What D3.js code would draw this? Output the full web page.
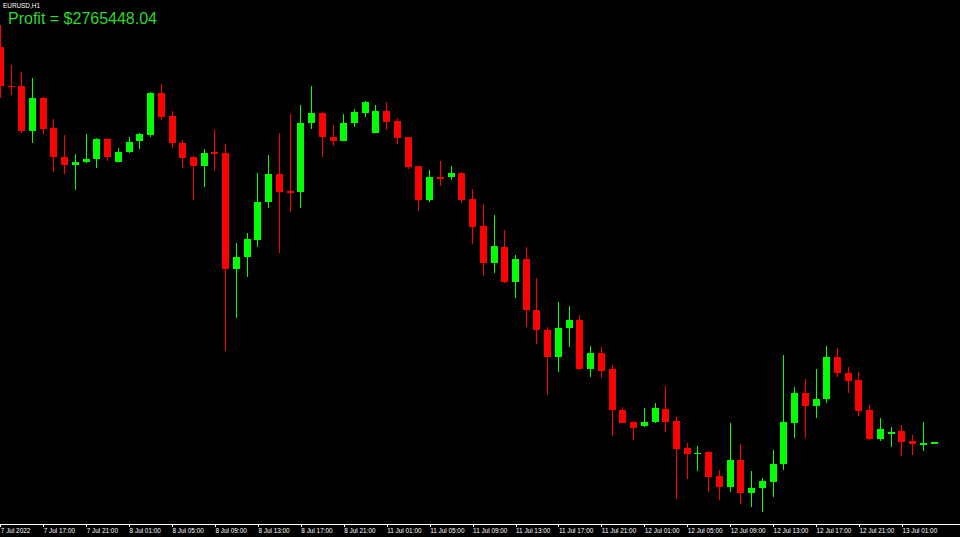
<!DOCTYPE html>
<html>
<head>
<meta charset="utf-8">
<script src="https://cdn.jsdelivr.net/npm/d3@7"></script>
<style>
  html, body { margin: 0; padding: 0; background: #000; overflow: hidden; }
  svg { display: block; }
</style>
</head>
<body>
<svg id="chart" width="960" height="537"></svg>
<script>
// ---- DATA (EURUSD, H1) ----
const symbolLabel = "EURUSD,H1";
const profitLabel = "Profit = $2765448.04";

const times = [
  "07-07 13","07-07 14","07-07 15","07-07 16","07-07 17","07-07 18","07-07 19","07-07 20","07-07 21","07-07 22","07-07 23",
  "07-08 00","07-08 01","07-08 02","07-08 03","07-08 04","07-08 05","07-08 06","07-08 07","07-08 08","07-08 09","07-08 10",
  "07-08 11","07-08 12","07-08 13","07-08 14","07-08 15","07-08 16","07-08 17","07-08 18","07-08 19","07-08 20","07-08 21",
  "07-08 22","07-08 23",
  "07-11 00","07-11 01","07-11 02","07-11 03","07-11 04","07-11 05","07-11 06","07-11 07","07-11 08","07-11 09","07-11 10",
  "07-11 11","07-11 12","07-11 13","07-11 14","07-11 15","07-11 16","07-11 17","07-11 18","07-11 19","07-11 20","07-11 21",
  "07-11 22","07-11 23",
  "07-12 00","07-12 01","07-12 02","07-12 03","07-12 04","07-12 05","07-12 06","07-12 07","07-12 08","07-12 09","07-12 10",
  "07-12 11","07-12 12","07-12 13","07-12 14","07-12 15","07-12 16","07-12 17","07-12 18","07-12 19","07-12 20","07-12 21",
  "07-12 22","07-12 23",
  "07-13 00","07-13 01","07-13 02","07-13 03","07-13 04"
];

const open = [
  1.02132,1.01978,1.01976,1.01796,1.01928,1.01808,1.01692,1.01660,1.01672,1.01684,1.01764,
  1.01672,1.01712,1.01756,1.01780,1.01948,1.01856,1.01748,1.01692,1.01656,1.01712,1.01708,
  1.01244,1.01292,1.01360,1.01512,1.01624,1.01556,1.01552,1.01828,1.01868,1.01772,1.01756,
  1.01828,1.01868,
  1.01788,1.01876,1.01836,1.01772,1.01656,1.01520,1.01612,1.01612,1.01628,1.01524,1.01416,
  1.01268,1.01332,1.01192,1.01284,1.01080,1.01000,1.00892,1.01008,1.01040,1.00844,1.00908,
  1.00844,1.00680,
  1.00632,1.00616,1.00632,1.00684,1.00636,1.00528,1.00504,1.00512,1.00416,1.00372,1.00480,
  1.00348,1.00368,1.00392,1.00464,1.00628,1.00748,1.00696,1.00724,1.00892,1.00828,1.00800,
  1.00680,1.00564,
  1.00586,1.00596,1.00556,1.00544,1.00548
];

const high = [
  1.02220,1.02060,1.02032,1.02008,1.01932,1.01844,1.01780,1.01704,1.01784,1.01768,1.01764,
  1.01728,1.01772,1.01788,1.01952,1.01984,1.01876,1.01760,1.01696,1.01724,1.01800,1.01744,
  1.01348,1.01388,1.01628,1.01700,1.01788,1.01864,1.01900,1.01976,1.01872,1.01820,1.01864,
  1.01884,1.01916,
  1.01900,1.01912,1.01848,1.01772,1.01656,1.01640,1.01676,1.01656,1.01632,1.01564,1.01504,
  1.01460,1.01400,1.01300,1.01332,1.01208,1.01012,1.01112,1.01096,1.01060,1.00936,1.00932,
  1.00860,1.00692,
  1.00636,1.00688,1.00708,1.00776,1.00652,1.00548,1.00536,1.00516,1.00440,1.00628,1.00544,
  1.00436,1.00408,1.00520,1.00900,1.00772,1.00804,1.00844,1.00936,1.00928,1.00852,1.00832,
  1.00700,1.00648,
  1.00612,1.00620,1.00580,1.00632,1.00552
];

const low = [
  1.01928,1.01940,1.01788,1.01748,1.01784,1.01632,1.01624,1.01560,1.01668,1.01648,1.01676,
  1.01672,1.01708,1.01724,1.01772,1.01840,1.01728,1.01648,1.01520,1.01572,1.01636,1.00916,
  1.01048,1.01212,1.01332,1.01488,1.01308,1.01472,1.01488,1.01804,1.01692,1.01736,1.01756,
  1.01812,1.01852,
  1.01788,1.01800,1.01744,1.01644,1.01476,1.01512,1.01576,1.01600,1.01508,1.01344,1.01216,
  1.01228,1.01188,1.01128,1.01012,1.00944,1.00740,1.00832,1.00932,1.00840,1.00812,1.00808,
  1.00576,1.00628,
  1.00560,1.00612,1.00628,1.00592,1.00324,1.00404,1.00436,1.00352,1.00320,1.00352,1.00304,
  1.00292,1.00272,1.00332,1.00440,1.00568,1.00568,1.00648,1.00708,1.00812,1.00748,1.00656,
  1.00560,1.00556,
  1.00532,1.00496,1.00500,1.00516,1.00548
];

const close = [
  1.01976,1.01972,1.01796,1.01928,1.01804,1.01692,1.01660,1.01672,1.01684,1.01764,1.01692,
  1.01712,1.01752,1.01784,1.01948,1.01852,1.01748,1.01688,1.01656,1.01708,1.01706,1.01244,
  1.01292,1.01364,1.01512,1.01624,1.01552,1.01552,1.01828,1.01868,1.01772,1.01756,1.01828,
  1.01872,1.01912,
  1.01876,1.01832,1.01768,1.01652,1.01520,1.01612,1.01608,1.01628,1.01520,1.01412,1.01268,
  1.01336,1.01192,1.01284,1.01080,1.01000,1.00892,1.01008,1.01040,1.00844,1.00908,1.00836,
  1.00680,1.00628,
  1.00608,1.00632,1.00688,1.00632,1.00524,1.00504,1.00510,1.00412,1.00372,1.00480,1.00348,
  1.00368,1.00396,1.00464,1.00632,1.00748,1.00696,1.00724,1.00892,1.00828,1.00796,1.00676,
  1.00564,1.00604,
  1.00592,1.00552,1.00544,1.00548,1.00552
];

const tickTimes  = ["07-07 13","07-07 17","07-07 21","07-08 01","07-08 05","07-08 09","07-08 13","07-08 17","07-08 21",
                    "07-11 01","07-11 05","07-11 09","07-11 13","07-11 17","07-11 21",
                    "07-12 01","07-12 05","07-12 09","07-12 13","07-12 17","07-12 21","07-13 01"];
const tickLabels = ["7 Jul 2022","7 Jul 17:00","7 Jul 21:00","8 Jul 01:00","8 Jul 05:00","8 Jul 09:00","8 Jul 13:00","8 Jul 17:00","8 Jul 21:00",
                    "11 Jul 01:00","11 Jul 05:00","11 Jul 09:00","11 Jul 13:00","11 Jul 17:00","11 Jul 21:00",
                    "12 Jul 01:00","12 Jul 05:00","12 Jul 09:00","12 Jul 13:00","12 Jul 17:00","12 Jul 21:00","13 Jul 01:00"];

// ---- CHART ----
const W = 960, H = 537;
const bull = "#00ff00", bear = "#ff0000";
const svg = d3.select("#chart");
svg.append("rect").attr("width", W).attr("height", H).attr("fill", "#000");

const x = d3.scalePoint().domain(times).range([0.3, 934.1]);
const y = d3.scaleLinear().domain([1.0000, 1.0200]).range([580, 80]);

const candles = times.map((t, i) => ({ t, o: open[i], h: high[i], l: low[i], c: close[i] }));
const bodyW = 7;

const g = svg.append("g");
g.selectAll("line.wick").data(candles).join("line")
  .attr("class", "wick")
  .attr("x1", d => Math.floor(x(d.t)) + 0.5)
  .attr("x2", d => Math.floor(x(d.t)) + 0.5)
  .attr("y1", d => y(d.h))
  .attr("y2", d => y(d.l))
  .attr("stroke", d => d.c >= d.o ? bull : bear)
  .attr("stroke-width", 1)
  .attr("shape-rendering", "crispEdges");

g.selectAll("rect.body").data(candles).join("rect")
  .attr("class", "body")
  .attr("x", d => Math.floor(x(d.t)) - 3)
  .attr("width", bodyW)
  .attr("y", d => Math.min(y(d.o), y(d.c)))
  .attr("height", d => Math.max(Math.abs(y(d.o) - y(d.c)), 1.5))
  .attr("fill", d => d.c >= d.o ? bull : bear)
  .attr("shape-rendering", "crispEdges");

// x axis (bottom time scale)
const axisY = 524;
const xAxis = d3.axisBottom(x)
  .tickValues(tickTimes)
  .tickSize(3)
  .tickPadding(1.5)
  .tickFormat((d) => tickLabels[tickTimes.indexOf(d)]);
const ax = svg.append("g").attr("transform", `translate(0,${axisY})`).call(xAxis);
ax.select(".domain").remove();
ax.selectAll(".tick line").attr("stroke", "#ffffff").attr("shape-rendering", "crispEdges");
ax.selectAll(".tick text")
  .attr("fill", "#ffffff")
  .attr("text-anchor", "start")
  .attr("x", 0)
  .attr("font-family", "'Liberation Sans', Arial, sans-serif")
  .attr("font-size", 6.4);
svg.append("line")
  .attr("x1", 0).attr("x2", W)
  .attr("y1", axisY + 0.5).attr("y2", axisY + 0.5)
  .attr("stroke", "#ffffff").attr("stroke-width", 1);

// labels
svg.append("text")
  .attr("x", 3).attr("y", 7.5)
  .attr("fill", "#ffffff")
  .attr("font-family", "'Liberation Sans', Arial, sans-serif")
  .attr("font-size", 6.4)
  .text(symbolLabel);

svg.append("text")
  .attr("x", 8).attr("y", 23.5)
  .attr("fill", "#2fd72f")
  .attr("font-family", "'Liberation Sans', Arial, sans-serif")
  .attr("font-size", 16)
  .text(profitLabel);
</script>
</body>
</html>
